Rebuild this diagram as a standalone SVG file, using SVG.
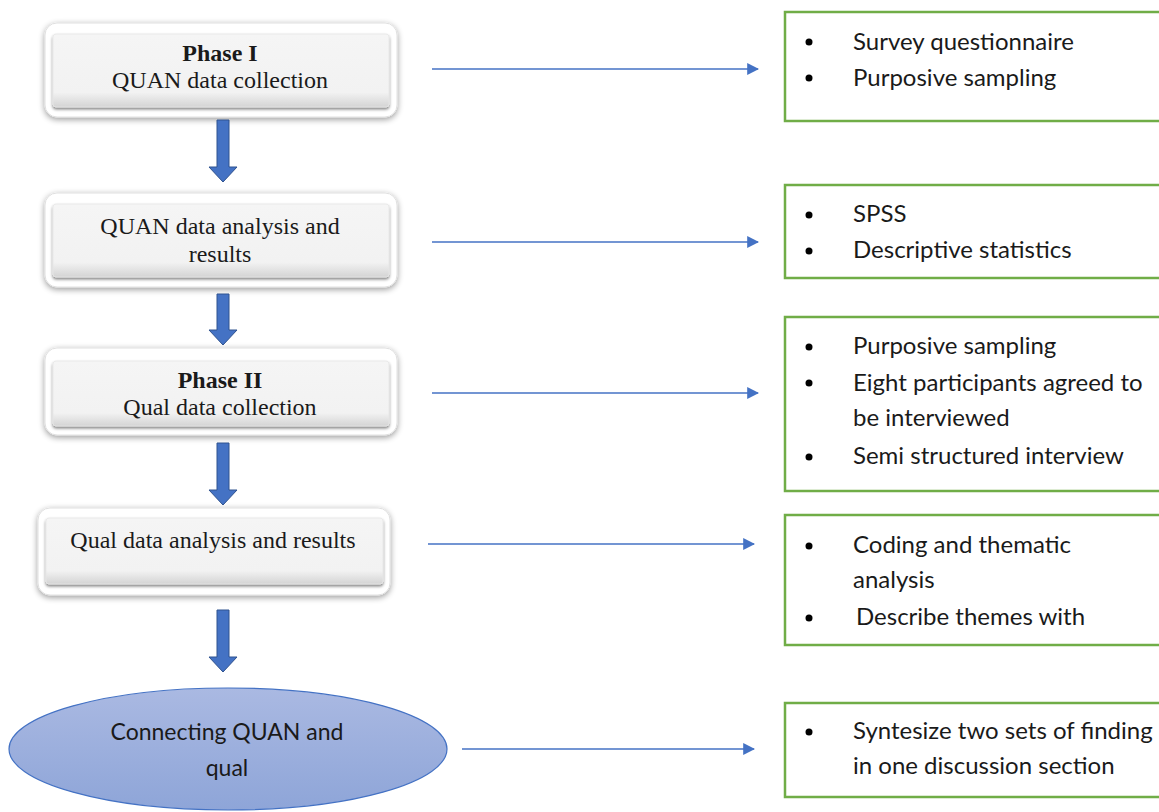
<svg xmlns="http://www.w3.org/2000/svg" width="1159" height="812" viewBox="0 0 1159 812">
  <defs>
    <linearGradient id="btnFill" x1="0" y1="0" x2="0" y2="1">
      <stop offset="0" stop-color="#f5f5f5"/>
      <stop offset="0.8" stop-color="#f2f2f2"/>
      <stop offset="1" stop-color="#d4d4d4"/>
    </linearGradient>
    <linearGradient id="ovalFill" x1="0" y1="0" x2="0" y2="1">
      <stop offset="0" stop-color="#aab9e2"/>
      <stop offset="1" stop-color="#8ea5d8"/>
    </linearGradient>
    <filter id="softShadow" x="-10%" y="-20%" width="120%" height="150%">
      <feGaussianBlur in="SourceAlpha" stdDeviation="3"/>
      <feOffset dx="0" dy="2" result="b"/>
      <feComponentTransfer><feFuncA type="linear" slope="0.4"/></feComponentTransfer>
      <feMerge><feMergeNode/><feMergeNode in="SourceGraphic"/></feMerge>
    </filter>
    <filter id="innerShadow" x="-5%" y="-10%" width="110%" height="130%">
      <feGaussianBlur in="SourceAlpha" stdDeviation="1.5"/>
      <feOffset dx="0" dy="2"/>
      <feComponentTransfer><feFuncA type="linear" slope="0.5"/></feComponentTransfer>
      <feMerge><feMergeNode/><feMergeNode in="SourceGraphic"/></feMerge>
    </filter>
    <marker id="arrowHead" viewBox="0 0 10 10" refX="9" refY="5" markerWidth="12" markerHeight="12" markerUnits="userSpaceOnUse" orient="auto">
      <path d="M0,0 L10,5 L0,10 Z" fill="#4472c4"/>
    </marker>
  </defs>
  <style>
    .outer { fill: #ffffff; stroke: #e0e0e0; stroke-width: 1; filter: url(#softShadow); }
    .inner { fill: url(#btnFill); stroke: #e6e6e6; stroke-width: 0.8; filter: url(#innerShadow); }
    .serif { font-family: "Liberation Serif", "Times New Roman", serif; font-size: 24px; fill: #1a1a1a; text-anchor: middle; }
    .bold { font-weight: bold; }
    .sans { font-family: Lato, "Open Sans", "Liberation Sans", sans-serif; font-size: 24px; fill: #1a1a1a; }
    .oval-text { font-size: 23px; text-anchor: middle; }
    .green { fill: #ffffff; stroke: #70ad47; stroke-width: 2.5; }
    .bullet { fill: #000000; }
    .link { stroke: #4472c4; stroke-width: 1.3; fill: none; marker-end: url(#arrowHead); }
    .down { fill: #4472c4; stroke: #2f528f; stroke-width: 1; }
  </style>

  <!-- Phase I box -->
  <g id="quan-collection">
    <rect class="outer" x="45" y="23" width="352" height="94" rx="12"/>
    <rect class="inner" x="53" y="34" width="336" height="73" rx="3"/>
    <text class="serif bold" x="220" y="61">Phase I</text>
    <text class="serif" x="220" y="88">QUAN data collection</text>
  </g>

  <g id="quan-analysis">
    <rect class="outer" x="45" y="193" width="352" height="94" rx="12"/>
    <rect class="inner" x="53" y="204" width="336" height="73" rx="3"/>
    <text class="serif" x="220" y="234">QUAN data analysis and</text>
    <text class="serif" x="220" y="262">results</text>
  </g>

  <g id="qual-collection">
    <rect class="outer" x="45" y="348" width="352" height="87" rx="12"/>
    <rect class="inner" x="53" y="361" width="336" height="65" rx="3"/>
    <text class="serif bold" x="220" y="388">Phase II</text>
    <text class="serif" x="220" y="415">Qual data collection</text>
  </g>

  <g id="qual-analysis">
    <rect class="outer" x="38" y="508" width="352" height="87" rx="12"/>
    <rect class="inner" x="46" y="518" width="337" height="66" rx="3"/>
    <text class="serif" x="213" y="548">Qual data analysis and results</text>
  </g>

  <g id="connecting">
    <ellipse cx="228" cy="749" rx="219" ry="61" fill="url(#ovalFill)" stroke="#4472c4" stroke-width="1.2"/>
    <text class="sans oval-text" x="227" y="740">Connecting QUAN and</text>
    <text class="sans oval-text" x="227" y="776">qual</text>
  </g>

  <!-- Detail lists -->
  <g id="detail-collection">
    <rect class="green" x="785" y="12" width="390" height="109"/>
    <circle class="bullet" cx="809" cy="42" r="3.5"/>
    <circle class="bullet" cx="809" cy="78" r="3.5"/>
    <text class="sans" x="853" y="50">Survey questionnaire</text>
    <text class="sans" x="853" y="86">Purposive sampling</text>
  </g>

  <g id="detail-analysis">
    <rect class="green" x="785" y="185" width="390" height="93"/>
    <circle class="bullet" cx="809" cy="215" r="3.5"/>
    <circle class="bullet" cx="809" cy="251" r="3.5"/>
    <text class="sans" x="853" y="222">SPSS</text>
    <text class="sans" x="853" y="258">Descriptive statistics</text>
  </g>

  <g id="detail-qual-collection">
    <rect class="green" x="785" y="317" width="390" height="174"/>
    <circle class="bullet" cx="809" cy="347" r="3.5"/>
    <circle class="bullet" cx="809" cy="383" r="3.5"/>
    <circle class="bullet" cx="809" cy="457" r="3.5"/>
    <text class="sans" x="853" y="354">Purposive sampling</text>
    <text class="sans" x="853" y="391">Eight participants agreed to</text>
    <text class="sans" x="853" y="426">be interviewed</text>
    <text class="sans" x="853" y="464">Semi structured interview</text>
  </g>

  <g id="detail-qual-analysis">
    <rect class="green" x="785" y="515" width="390" height="130"/>
    <circle class="bullet" cx="809" cy="546" r="3.5"/>
    <circle class="bullet" cx="809" cy="618" r="3.5"/>
    <text class="sans" x="853" y="553">Coding and thematic</text>
    <text class="sans" x="853" y="588">analysis</text>
    <text class="sans" x="856" y="625">Describe themes with</text>
  </g>

  <g id="detail-connecting">
    <rect class="green" x="785" y="703" width="390" height="94"/>
    <circle class="bullet" cx="809" cy="732" r="3.5"/>
    <text class="sans" x="853" y="739">Syntesize two sets of finding</text>
    <text class="sans" x="853" y="774">in one discussion section</text>
  </g>

  <!-- Connectors -->
  <g id="connectors">
    <line class="link" x1="432" y1="69" x2="758" y2="69"/>
    <line class="link" x1="432" y1="242" x2="758" y2="242"/>
    <line class="link" x1="432" y1="393" x2="758" y2="393"/>
    <line class="link" x1="428" y1="544" x2="754" y2="544"/>
    <line class="link" x1="462" y1="749" x2="754" y2="749"/>
    <path class="down" d="M217,120 H229 V167 H237 L223,182 L209,167 H217 Z"/>
    <path class="down" d="M217,294 H229 V330 H237 L223,345 L209,330 H217 Z"/>
    <path class="down" d="M217,443 H229 V490 H237 L223,505 L209,490 H217 Z"/>
    <path class="down" d="M217,610 H229 V657 H237 L223,672 L209,657 H217 Z"/>
  </g>
</svg>
